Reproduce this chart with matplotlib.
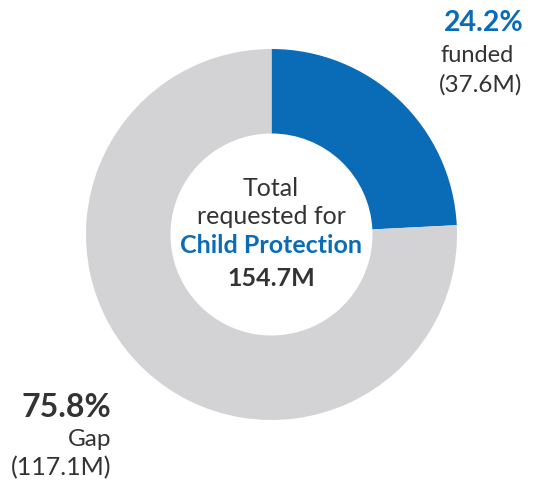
import matplotlib
matplotlib.use("Agg")
import matplotlib.pyplot as plt

# values
labels = ["funded", "Gap"]
shares = [24.2, 75.8]
amounts = ["37.6M", "117.1M"]
total = "154.7M"
sector = "Child Protection"

BLUE = "#0a6cb7"
GRAY = "#d3d3d5"
DARK = "#333333"

plt.rcParams["font.family"] = ["Lato", "DejaVu Sans"]

W, H = 537, 481
fig = plt.figure(figsize=(W / 100, H / 100), dpi=100)
ax = fig.add_axes([0, 0, 1, 1])

cx, cy, r = 271.5, H - 235.5, 185.5
ax.pie(shares, colors=[BLUE, GRAY], startangle=90, counterclock=False,
       center=(cx, cy), radius=r, wedgeprops=dict(width=r - 101, linewidth=0))
ax.set_xlim(0, W)
ax.set_ylim(0, H)
ax.set_aspect("equal")
ax.axis("off")

# centre label
tx = 271
ax.text(tx, H - 188, "Total", ha="center", va="center", fontsize=18, color=DARK)
ax.text(tx, H - 217, "requested for", ha="center", va="center", fontsize=18, color=DARK)
ax.text(tx, H - 246, sector, ha="center", va="center", fontsize=18, color=BLUE, fontweight="bold")
ax.text(tx, H - 279, total, ha="center", va="center", fontsize=18, color=DARK, fontweight="bold")

# funded label (top right)
ax.text(444, H - 23, f"{shares[0]}%", ha="left", va="center", fontsize=20.5, color=BLUE, fontweight="bold")
ax.text(440, H - 55, labels[0], ha="left", va="center", fontsize=17, color=DARK)
ax.text(439, H - 85, f"({amounts[0]})", ha="left", va="center", fontsize=17.5, color=DARK)

# gap label (bottom left)
ax.text(111, H - 408, f"{shares[1]}%", ha="right", va="center", fontsize=23, color=DARK, fontweight="bold")
ax.text(111, H - 440, labels[1], ha="right", va="center", fontsize=17.5, color=DARK)
ax.text(111, H - 468, f"({amounts[1]})", ha="right", va="center", fontsize=18, color=DARK)

fig.savefig("out.png", dpi=100)
